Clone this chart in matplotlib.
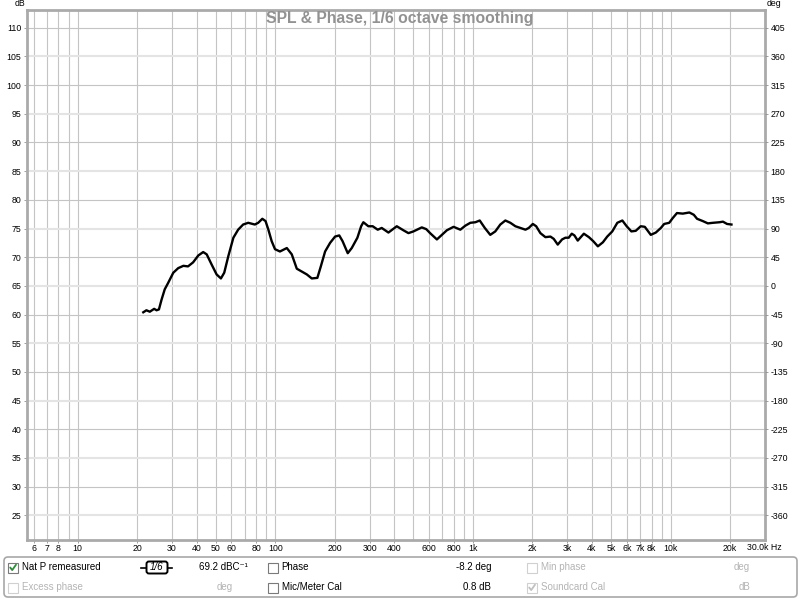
import matplotlib
matplotlib.use('Agg')
import matplotlib.pyplot as plt
from matplotlib.patches import Rectangle, FancyBboxPatch
from matplotlib.ticker import FixedLocator, NullFormatter
import numpy as np

freq = [21.5, 22.3, 23.2, 24.4, 25.1, 25.8, 26.6, 27.6, 28.7, 30.5, 32.3, 34.3, 36.2, 38.4,
        40.8, 43.2, 45.0, 47.7, 50.5, 53.1, 55.2, 57.9, 61.4, 64.9, 68.8, 73.0, 78.8, 82.0,
        86.0, 89.3, 92.3, 95.9, 99.7, 105.6, 114.4, 121.2, 128.5, 136.2, 144.4, 153, 163.3,
        170, 178.7, 189.4, 200.7, 210.7, 219, 232.6, 243.7, 260.3, 271.9, 279, 295.7, 311,
        329.8, 345.6, 373.6, 411.7, 444.6, 471.6, 500, 551, 580, 607, 657, 696, 738, 798,
        863, 915, 970, 1029, 1082, 1148, 1223, 1297, 1375, 1458, 1546, 1639, 1738, 1843,
        1915, 2008, 2088, 2193, 2325, 2465, 2562, 2684, 2823, 2935, 3050, 3160, 3260, 3388,
        3638, 3858, 4058, 4283, 4541, 4777, 5066, 5371, 5696, 5990, 6328, 6656, 7057, 7398,
        7932, 8411, 8918, 9272, 9832, 10230, 10760, 11510, 12430, 13090, 13600, 14540,
        15420, 16360, 17680, 18380, 19280, 20300]
spl = [60.4, 60.75, 60.5, 61.0, 60.75, 60.9, 62.6, 64.4, 65.5, 67.3, 68.1, 68.5, 68.4, 69.1,
       70.3, 70.9, 70.5, 68.7, 67.0, 66.3, 67.3, 70.2, 73.4, 74.8, 75.7, 76.0, 75.7, 76.0,
       76.7, 76.3, 74.8, 72.8, 71.4, 71.0, 71.6, 70.5, 68.0, 67.5, 67.0, 66.3, 66.4,
       68.4, 71.0, 72.5, 73.6, 73.8, 72.8, 70.7, 71.6, 73.4, 75.4, 76.1, 75.4, 75.4,
       74.8, 75.1, 74.3, 75.4, 74.7, 74.2, 74.5, 75.2, 74.9, 74.2, 73.1, 73.9, 74.7, 75.3,
       74.8, 75.5, 76.0, 76.1, 76.4, 75.1, 73.9, 74.5, 75.7, 76.4, 76.0, 75.4, 75.1, 74.8,
       75.1, 75.8, 75.4, 74.2, 73.5, 73.6, 73.2, 72.2, 73.1, 73.4, 73.4, 74.1, 73.8, 72.9,
       74.1, 73.5, 72.8, 71.9, 72.6, 73.6, 74.5, 76.0, 76.4, 75.4, 74.5, 74.6, 75.4, 75.3,
       73.9, 74.3, 75.1, 75.8, 76.0, 76.8, 77.7, 77.6, 77.8, 77.4, 76.7, 76.3,
       75.9, 76.0, 76.1, 76.2, 75.8, 75.7]

x_ticks = [6, 7, 8, 10, 20, 30, 40, 50, 60, 80, 100, 200, 300, 400, 600, 800,
           1000, 2000, 3000, 4000, 5000, 6000, 7000, 8000, 10000, 20000]
x_labels = ['6', '7', '8', '10', '20', '30', '40', '50', '60', '80', '100', '200', '300',
            '400', '600', '800', '1k', '2k', '3k', '4k', '5k', '6k', '7k', '8k', '10k', '20k']
db_ticks = list(range(25, 115, 5))
deg_ticks = list(range(-360, 450, 45))

W, H = 800, 599
fig = plt.figure(figsize=(W / 100, H / 100), dpi=100)
fig.patch.set_facecolor('white')

x0, x1, yt, yb = 27, 765, 10, 540
ax = fig.add_axes([x0 / W, 1 - yb / H, (x1 - x0) / W, (yb - yt) / H])
ax.set_xscale('log')
ax.set_xlim(5.55, 30000)
ax.set_ylim(20.7, 113.1)

tick_font = dict(family='Liberation Sans', size=6.3)

# grid
minor = [m * 10 ** e for e in range(0, 5) for m in range(1, 10)]
minor = [f for f in minor if 5.55 < f < 30000]
for f in minor:
    ax.axvline(f, color='#c4c4c4', lw=0.8, zorder=1)
for d in db_ticks:
    if d % 10 == 0:
        ax.axhline(d, color='#c4c4c4', lw=0.8, zorder=1)
    else:
        ax.axhline(d, color='#e4e4e4', lw=1.5, zorder=1)

ax.plot(freq, spl, color='black', lw=1.7, zorder=3, solid_joinstyle='round')

ax.xaxis.set_major_locator(FixedLocator(x_ticks))
ax.xaxis.set_minor_formatter(NullFormatter())
ax.set_xticklabels(x_labels, **tick_font)
ax.tick_params(axis='x', which='minor', length=0)
ax.set_yticks(db_ticks)
ax.set_yticklabels([str(d) for d in db_ticks], **tick_font)
ax.tick_params(axis='both', which='major', length=2, width=0.6, color='#909090', pad=2)
ax.tick_params(axis='x', pad=1)

for s in ax.spines.values():
    s.set_color('#aaaaaa')
    s.set_linewidth(2)

ax2 = ax.twinx()
ax2.set_ylim((20.7 - 65) * 9, (113.1 - 65) * 9)
ax2.set_yticks(deg_ticks)
ax2.set_yticklabels([str(d) for d in deg_ticks], **tick_font)
ax2.tick_params(axis='y', length=2, width=0.6, color='#909090', pad=2)
for s in ax2.spines.values():
    s.set_visible(False)

# overlay in pixel coordinates for title / labels / control panel
ov = fig.add_axes([0, 0, 1, 1])
ov.set_xlim(0, W)
ov.set_ylim(H, 0)
ov.axis('off')

ov.text(400, 19, 'SPL & Phase, 1/6 octave smoothing', ha='center', va='center',
        family='Liberation Sans', weight='bold', size=11.3, color='#929292')
ov.text(25, 4, 'dB', ha='right', va='center', **tick_font)
ov.text(767, 4, 'deg', ha='left', va='center', **tick_font)
ov.text(747, 548, '30.0k Hz', ha='left', va='center', **tick_font)

ov.add_patch(FancyBboxPatch((4, 557), 793, 40, boxstyle='round,pad=0,rounding_size=4',
                            fc='white', ec='#a8a8a8', lw=1.2))

pf = dict(family=['Liberation Sans', 'DejaVu Sans'], size=7, va='center')
gray = '#b4b4b4'


def checkbox(x, y, checked=False, enabled=True):
    ec = '#7a7a7a' if enabled else '#d0d0d0'
    ov.add_patch(Rectangle((x, y - 5), 10, 10, fc='white', ec=ec, lw=0.8))
    if checked:
        c = '#2e8b3a' if enabled else '#c0c0c0'
        ov.plot([x + 2.2, x + 4.2, x + 8], [y, y + 2.6, y - 2.8], color=c, lw=1.3,
                solid_capstyle='round')


r1, r2 = 567.5, 587.5
checkbox(8, r1, checked=True)
ov.text(22.5, r1, 'Nat P remeasured', color='black', **pf)
ov.plot([141, 172], [r1, r1], color='black', lw=1.2)
ov.add_patch(FancyBboxPatch((146.5, r1 - 6), 21, 12, boxstyle='round,pad=0,rounding_size=2.5',
                            fc='white', ec='black', lw=1.4, zorder=3))
ov.text(157, r1, '1/6', ha='center', color='black', zorder=4,
        family='Liberation Sans', size=7, style='italic', va='center')
ov.text(199, r1, '69.2 dBC⁻¹', color='black', **pf)
checkbox(268, r1)
ov.text(281.5, r1, 'Phase', color='black', **pf)
ov.text(491, r1, '-8.2 deg', ha='right', color='black', **pf)
checkbox(527, r1, enabled=False)
ov.text(541, r1, 'Min phase', color=gray, **pf)
ov.text(750, r1, 'deg', ha='right', color=gray, **pf)

checkbox(8, r2, enabled=False)
ov.text(22.5, r2, 'Excess phase', color=gray, **pf)
ov.text(224.5, r2, 'deg', ha='center', color=gray, **pf)
checkbox(268, r2)
ov.text(281.5, r2, 'Mic/Meter Cal', color='black', **pf)
ov.text(491, r2, '0.8 dB', ha='right', color='black', **pf)
checkbox(527, r2, checked=True, enabled=False)
ov.text(541, r2, 'Soundcard Cal', color=gray, **pf)
ov.text(750, r2, 'dB', ha='right', color=gray, **pf)

fig.savefig('out.png', dpi=100, facecolor='white')
